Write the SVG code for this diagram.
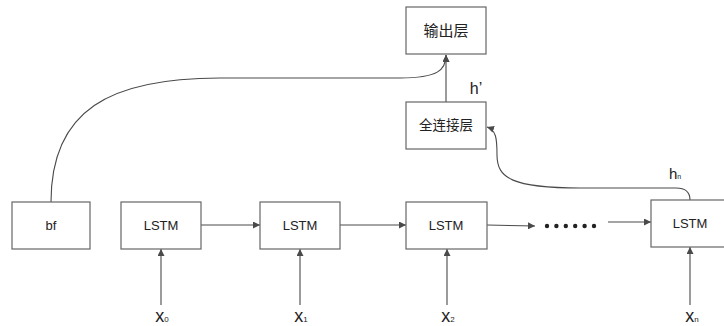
<svg xmlns="http://www.w3.org/2000/svg" width="724" height="326" viewBox="0 0 724 326">
<style>
.box{fill:#fff;stroke:#666;stroke-width:1.2}
.t{font-family:"Liberation Sans","Noto Sans CJK SC",sans-serif;fill:#222;text-anchor:middle}
.c{fill:none;stroke:#4a4a4a;stroke-width:1.1}
</style>
<defs>
<marker id="ah" viewBox="0 0 10 10" refX="10" refY="5" markerWidth="7" markerHeight="7" markerUnits="userSpaceOnUse" orient="auto">
<path d="M0,0 L10,5 L0,10 Z" fill="#4a4a4a"/>
</marker>
</defs>
<rect width="724" height="326" fill="#fff"/>
<g id="connectors">
<path class="c" d="M51,202 C51,110 110,78 220,78 L400,78 C438,78 446,70 446,55" marker-end="url(#ah)"/>
<path class="c" d="M446,102 L446,55" marker-end="url(#ah)"/>
<path class="c" d="M690,200 C690,192 686,188 676,188 L580,188 C512,188 497,178 497,155 C497,138 496,130 487,127" marker-end="url(#ah)"/>
<path class="c" d="M201,225 L260,225" marker-end="url(#ah)"/>
<path class="c" d="M340,225 L406,225" marker-end="url(#ah)"/>
<path class="c" d="M487,225 L535,226" marker-end="url(#ah)"/>
<path class="c" d="M608,222 L651,222" marker-end="url(#ah)"/>
<path class="c" d="M161,305 L161,249" marker-end="url(#ah)"/>
<path class="c" d="M300,305 L300,249" marker-end="url(#ah)"/>
<path class="c" d="M447,305 L447,249" marker-end="url(#ah)"/>
<path class="c" d="M690,305 L690,247" marker-end="url(#ah)"/>
</g>
<g id="output">
<rect class="box" x="406" y="7" width="80" height="47"/>
<text class="t" x="446" y="36" font-size="15" fill="#444">输出层</text>
</g>
<g id="fc">
<rect class="box" x="406" y="102" width="80" height="47"/>
<text class="t" x="446" y="130" font-size="13.5">全连接层</text>
</g>
<g id="bf">
<rect class="box" x="12" y="202" width="78" height="47"/>
<text class="t" x="51" y="230" font-size="13">bf</text>
</g>
<g id="lstm1">
<rect class="box" x="121" y="202" width="80" height="47"/>
<text class="t" x="161" y="230" font-size="13">LSTM</text>
</g>
<g id="lstm2">
<rect class="box" x="260" y="202" width="80" height="47"/>
<text class="t" x="300" y="230" font-size="13">LSTM</text>
</g>
<g id="lstm3">
<rect class="box" x="406" y="202" width="81" height="47"/>
<text class="t" x="446" y="230" font-size="13">LSTM</text>
</g>
<g id="lstmn">
<rect class="box" x="651" y="200" width="80" height="47"/>
<text class="t" x="690" y="228" font-size="13">LSTM</text>
</g>
<g id="dots" fill="#222">
<circle cx="547" cy="226" r="2.2"/>
<circle cx="556.4" cy="226" r="2.2"/>
<circle cx="565.8" cy="226" r="2.2"/>
<circle cx="575.2" cy="226" r="2.2"/>
<circle cx="584.6" cy="226" r="2.2"/>
<circle cx="594" cy="226" r="2.2"/>
</g>
<g id="labels">
<text class="t" x="476" y="94" font-size="16">h’</text>
<text class="t" x="675" y="179" font-size="15">h<tspan font-size="7">n</tspan></text>
<text class="t" x="162" y="322" font-size="18">x<tspan font-size="8">0</tspan></text>
<text class="t" x="301" y="322" font-size="18">x<tspan font-size="8">1</tspan></text>
<text class="t" x="448" y="322" font-size="18">x<tspan font-size="8">2</tspan></text>
<text class="t" x="692" y="322" font-size="18">x<tspan font-size="8">n</tspan></text>
</g>
</svg>
